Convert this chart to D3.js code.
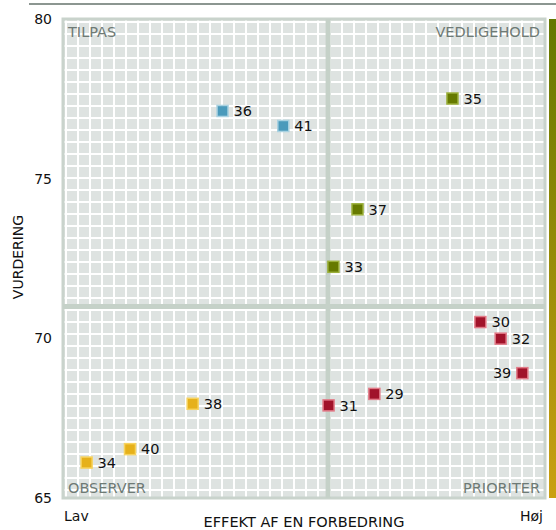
<!DOCTYPE html>
<html>
<head>
<meta charset="utf-8">
<script src="https://cdn.jsdelivr.net/npm/d3@7"></script>
<style>
  body { margin: 0; background: #fff; }
  text { font-family: "DejaVu Sans", Verdana, sans-serif; }
</style>
</head>
<body>
<script>
// data
var ids = ["36", "41", "35", "37", "33", "30", "32", "39", "29", "31", "38", "40", "34"];
var effekt = [33.1, 45.7, 80.8, 61.1, 56.1, 86.6, 90.8, 95.3, 64.6, 55.1, 26.9, 13.9, 4.9];
var vurdering = [77.12, 76.65, 77.51, 74.04, 72.24, 70.51, 69.99, 68.91, 68.26, 67.90, 67.95, 66.53, 66.11];
var yTicks = [65, 70, 75, 80];
var splitX = 55, splitY = 71;
var quadrants = ["TILPAS", "VEDLIGEHOLD", "OBSERVER", "PRIORITER"];

var w = 556, h = 530;
var margin = { top: 19, right: 11, bottom: 32, left: 63 };

var svg = d3.select("body").append("svg")
    .attr("width", w)
    .attr("height", h);

var x = d3.scaleLinear().domain([0, 100]).range([margin.left, w - margin.right]);
var y = d3.scaleLinear().domain([65, 80]).range([h - margin.bottom, margin.top]);

// grid pattern
var defs = svg.append("defs");
var pat = defs.append("pattern")
    .attr("id", "grid")
    .attr("patternUnits", "userSpaceOnUse")
    .attr("x", margin.left + 2).attr("y", margin.top + 2)
    .attr("width", 12).attr("height", 12);
pat.append("rect").attr("width", 12).attr("height", 12).attr("fill", "#fff");
pat.append("rect").attr("x", 2).attr("y", 2).attr("width", 10).attr("height", 10).attr("fill", "#dee3e1");

var grad = defs.append("linearGradient")
    .attr("id", "bar").attr("x1", 0).attr("y1", 0).attr("x2", 0).attr("y2", 1);
grad.append("stop").attr("offset", "0%").attr("stop-color", "#647800");
grad.append("stop").attr("offset", "100%").attr("stop-color", "#caa012");

// top rule
svg.append("line")
    .attr("x1", 29).attr("x2", w).attr("y1", 4).attr("y2", 4)
    .attr("stroke", "#8c9691").attr("stroke-width", 2);

// plot area
svg.append("rect")
    .attr("x", x(0)).attr("y", y(80))
    .attr("width", x(100) - x(0)).attr("height", y(65) - y(80))
    .attr("fill", "url(#grid)")
    .attr("stroke", "#c9d3cc").attr("stroke-width", 3);

// quadrant dividers
svg.append("line")
    .attr("x1", x(splitX)).attr("x2", x(splitX))
    .attr("y1", y(80)).attr("y2", y(65))
    .attr("stroke", "#c5d1c8").attr("stroke-width", 5);
svg.append("line")
    .attr("x1", x(0)).attr("x2", x(100))
    .attr("y1", y(splitY)).attr("y2", y(splitY))
    .attr("stroke", "#c5d1c8").attr("stroke-width", 5);

// colour bar
svg.append("rect")
    .attr("x", 549).attr("y", y(80))
    .attr("width", 8).attr("height", y(65) - y(80))
    .attr("fill", "url(#bar)");

// quadrant labels
var qStyle = { size: "14.5px", fill: "#6e7a75" };
svg.append("text").attr("x", x(0) + 5).attr("y", y(80) + 18)
    .style("font-size", qStyle.size).attr("fill", qStyle.fill).text(quadrants[0]);
svg.append("text").attr("x", x(100) - 5).attr("y", y(80) + 18)
    .attr("text-anchor", "end")
    .style("font-size", qStyle.size).attr("fill", qStyle.fill).text(quadrants[1]);
svg.append("text").attr("x", x(0) + 5).attr("y", y(65) - 5)
    .style("font-size", qStyle.size).attr("fill", qStyle.fill).text(quadrants[2]);
svg.append("text").attr("x", x(100) - 5).attr("y", y(65) - 5)
    .attr("text-anchor", "end")
    .style("font-size", qStyle.size).attr("fill", qStyle.fill).text(quadrants[3]);

// y axis ticks
var yAxis = d3.axisLeft(y).tickValues(yTicks).tickSize(0).tickPadding(11);
var gy = svg.append("g")
    .attr("transform", "translate(" + x(0) + ",0)")
    .call(yAxis);
gy.select(".domain").remove();
gy.selectAll("text")
    .style("font-size", "14px")
    .style("font-family", "'DejaVu Sans', Verdana, sans-serif")
    .attr("fill", "#111");

// axis titles
svg.append("text")
    .attr("transform", "translate(23," + 257 + ") rotate(-90)")
    .attr("text-anchor", "middle")
    .style("font-size", "14px").attr("fill", "#111")
    .text("VURDERING");
svg.append("text")
    .attr("x", (x(0) + x(100)) / 2).attr("y", 527)
    .attr("text-anchor", "middle")
    .style("font-size", "14.5px").attr("fill", "#111")
    .text("EFFEKT AF EN FORBEDRING");
svg.append("text")
    .attr("x", x(0) + 1).attr("y", 521)
    .style("font-size", "14px").attr("fill", "#111")
    .text("Lav");
svg.append("text")
    .attr("x", x(100) - 2).attr("y", 521)
    .attr("text-anchor", "end")
    .style("font-size", "14px").attr("fill", "#111")
    .text("Høj");

// points
var colors = {
    TILPAS: { fill: "#4a9abb", stroke: "#a9d2e1" },
    VEDLIGEHOLD: { fill: "#667a00", stroke: "#9bb03a" },
    OBSERVER: { fill: "#e6b11b", stroke: "#f7d35e" },
    PRIORITER: { fill: "#a1132a", stroke: "#e27a87" }
};
function quadrant(i) {
    if (vurdering[i] >= splitY) return effekt[i] < splitX ? "TILPAS" : "VEDLIGEHOLD";
    return effekt[i] < splitX ? "OBSERVER" : "PRIORITER";
}

var pts = svg.selectAll(".pt")
    .data(ids)
    .enter().append("g")
    .attr("class", "pt")
    .attr("transform", function (d, i) {
        return "translate(" + x(effekt[i]) + "," + y(vurdering[i]) + ")";
    });

pts.append("rect")
    .attr("x", -5.5).attr("y", -5.5)
    .attr("width", 11).attr("height", 11)
    .attr("fill", function (d, i) { return colors[quadrant(i)].fill; })
    .attr("stroke", function (d, i) { return colors[quadrant(i)].stroke; })
    .attr("stroke-width", 1.5);

pts.append("text")
    .attr("x", function (d) { return d === "39" ? -11 : 11; })
    .attr("dy", "0.36em")
    .attr("text-anchor", function (d) { return d === "39" ? "end" : "start"; })
    .style("font-size", "14.5px").attr("fill", "#111")
    .text(function (d) { return d; });
</script>
</body>
</html>
